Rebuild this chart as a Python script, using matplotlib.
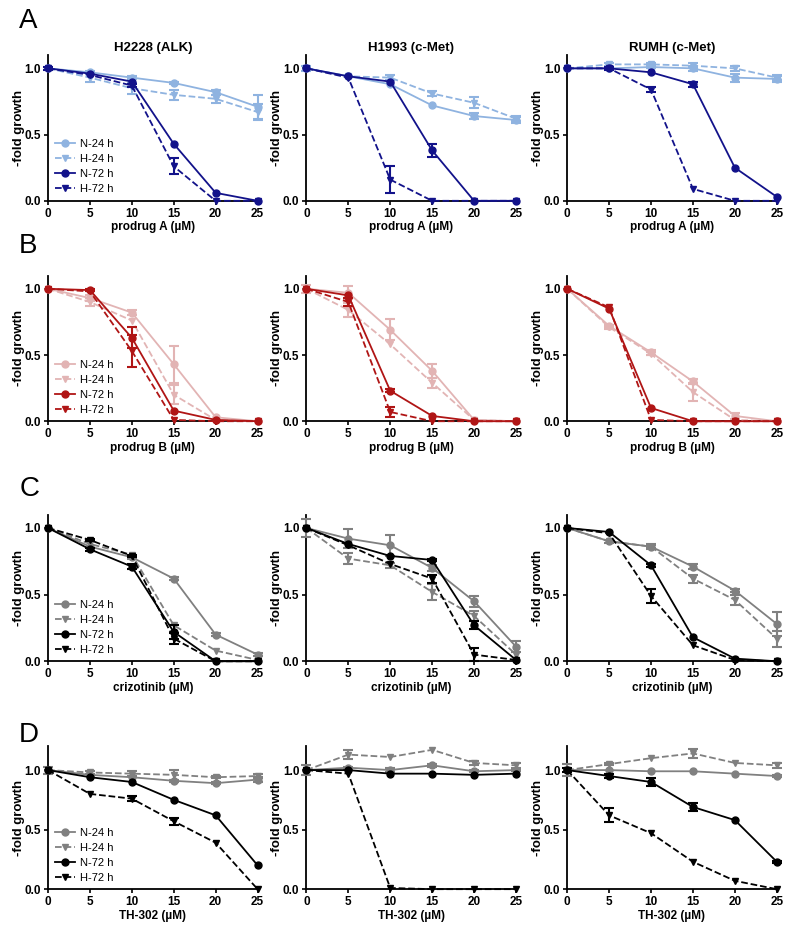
import matplotlib
matplotlib.use("Agg")
import matplotlib.pyplot as plt
import numpy as np

plt.rcParams["font.family"] = ["Liberation Sans", "DejaVu Sans"]

# ── Data ─────────────────────────────────────────────────────────────────────
# order of rows in each panel: N-24 h, H-24 h, N-72 h, H-72 h

CONC = [0, 5, 10, 15, 20, 25]
SERIES = ["N-24 h", "H-24 h", "N-72 h", "H-72 h"]
CELL_LINES = ["H2228 (ALK)", "H1993 (c-Met)", "RUMH (c-Met)"]
DRUGS = ["prodrug A (µM)", "prodrug B (µM)", "crizotinib (µM)", "TH-302 (µM)"]
ROW_LETTERS = ["A", "B", "C", "D"]

A_H2228 = [[1.0, 0.97, 0.93, 0.89, 0.82, 0.71],
           [1.0, 0.93, 0.85, 0.80, 0.77, 0.67],
           [1.0, 0.96, 0.90, 0.43, 0.06, 0.0],
           [1.0, 0.95, 0.87, 0.26, 0.0, 0.0]]
A_H2228_ERR = [[0, 0.01, 0.01, 0.01, 0.02, 0.09],
               [0, 0.03, 0.04, 0.04, 0.03, 0.06],
               [0, 0, 0, 0, 0, 0],
               [0.01, 0, 0.01, 0.06, 0, 0]]
A_H1993 = [[1.0, 0.94, 0.88, 0.72, 0.64, 0.61],
           [1.0, 0.94, 0.93, 0.81, 0.74, 0.62],
           [1.0, 0.94, 0.90, 0.38, 0.0, 0.0],
           [1.0, 0.93, 0.16, 0.0, 0.0, 0.0]]
A_H1993_ERR = [[0.02, 0, 0, 0, 0.02, 0.02],
               [0, 0, 0.02, 0.02, 0.04, 0.02],
               [0, 0, 0, 0.05, 0, 0],
               [0, 0, 0.10, 0, 0, 0]]
A_RUMH = [[1.0, 1.0, 1.01, 1.0, 0.93, 0.92],
          [1.0, 1.03, 1.03, 1.02, 1.0, 0.93],
          [1.0, 1.0, 0.97, 0.88, 0.25, 0.03],
          [1.0, 1.0, 0.84, 0.09, 0.0, 0.0]]
A_RUMH_ERR = [[0, 0, 0.01, 0.02, 0.03, 0.02],
              [0, 0.01, 0.01, 0.02, 0.02, 0.02],
              [0, 0.01, 0, 0.02, 0, 0],
              [0, 0, 0.02, 0, 0, 0]]

B_H2228 = [[1.0, 0.93, 0.82, 0.43, 0.03, 0.0],
           [1.0, 0.90, 0.76, 0.20, 0.01, 0.0],
           [1.0, 0.99, 0.63, 0.08, 0.01, 0.0],
           [1.0, 0.98, 0.53, 0.01, 0.0, 0.0]]
B_H2228_ERR = [[0, 0.02, 0.02, 0.14, 0, 0],
               [0, 0.03, 0, 0.07, 0, 0],
               [0, 0.01, 0.08, 0, 0, 0],
               [0, 0, 0.12, 0, 0, 0]]
B_H1993 = [[1.0, 0.97, 0.69, 0.38, 0.01, 0.0],
           [1.0, 0.84, 0.58, 0.29, 0.01, 0.0],
           [1.0, 0.95, 0.23, 0.04, 0.0, 0.0],
           [1.0, 0.90, 0.07, 0.0, 0.0, 0.0]]
B_H1993_ERR = [[0.03, 0.05, 0.08, 0.05, 0, 0],
               [0, 0.05, 0, 0.04, 0, 0],
               [0, 0, 0.01, 0, 0, 0],
               [0, 0.03, 0.04, 0, 0, 0]]
B_RUMH = [[1.0, 0.72, 0.52, 0.30, 0.04, 0.0],
          [1.0, 0.71, 0.51, 0.22, 0.01, 0.0],
          [1.0, 0.85, 0.10, 0.0, 0.0, 0.0],
          [1.0, 0.86, 0.01, 0.0, 0.0, 0.0]]
B_RUMH_ERR = [[0, 0.01, 0.02, 0.02, 0.02, 0],
              [0, 0.01, 0.01, 0.07, 0, 0],
              [0, 0, 0, 0, 0, 0],
              [0, 0, 0, 0, 0, 0]]

C_H2228 = [[1.0, 0.86, 0.78, 0.62, 0.20, 0.05],
           [1.0, 0.88, 0.80, 0.27, 0.08, 0.01],
           [1.0, 0.84, 0.71, 0.22, 0.0, 0.0],
           [1.0, 0.91, 0.79, 0.17, 0.0, 0.0]]
C_H2228_ERR = [[0, 0, 0.01, 0.01, 0.01, 0.01],
               [0, 0, 0, 0, 0, 0],
               [0, 0.01, 0.02, 0.05, 0, 0],
               [0, 0.01, 0.01, 0.04, 0, 0]]
C_H1993 = [[1.0, 0.92, 0.87, 0.70, 0.45, 0.11],
           [1.0, 0.77, 0.72, 0.52, 0.34, 0.05],
           [1.0, 0.88, 0.79, 0.76, 0.27, 0.01],
           [1.0, 0.87, 0.73, 0.62, 0.05, 0.01]]
C_H1993_ERR = [[0, 0.07, 0.08, 0.02, 0.04, 0.04],
               [0.07, 0.04, 0.02, 0.06, 0.04, 0],
               [0, 0, 0, 0.01, 0.03, 0],
               [0, 0, 0, 0.03, 0.05, 0]]
C_RUMH = [[1.0, 0.90, 0.86, 0.71, 0.53, 0.28],
          [1.0, 0.90, 0.86, 0.62, 0.46, 0.17],
          [1.0, 0.97, 0.72, 0.18, 0.02, 0.0],
          [1.0, 0.96, 0.49, 0.12, 0.01, 0.0]]
C_RUMH_ERR = [[0, 0, 0.02, 0.02, 0.01, 0.09],
              [0, 0.01, 0.01, 0.03, 0.04, 0.06],
              [0, 0, 0.01, 0, 0, 0],
              [0, 0, 0.05, 0, 0, 0]]

D_H2228 = [[1.0, 0.96, 0.94, 0.91, 0.89, 0.92],
           [1.0, 0.98, 0.97, 0.96, 0.94, 0.95],
           [1.0, 0.94, 0.90, 0.75, 0.62, 0.20],
           [1.0, 0.80, 0.76, 0.57, 0.39, 0.0]]
D_H2228_ERR = [[0, 0, 0, 0.01, 0.01, 0.02],
               [0.03, 0.01, 0.02, 0.04, 0.01, 0.02],
               [0, 0, 0, 0, 0, 0],
               [0, 0, 0.02, 0.03, 0, 0]]
D_H1993 = [[1.0, 1.02, 1.00, 1.04, 0.99, 1.0],
           [1.0, 1.13, 1.11, 1.17, 1.06, 1.04],
           [1.0, 1.0, 0.97, 0.97, 0.96, 0.97],
           [1.0, 0.97, 0.01, 0.0, 0.0, 0.0]]
D_H1993_ERR = [[0, 0.01, 0.02, 0.01, 0.01, 0.01],
               [0.04, 0.04, 0, 0, 0.02, 0.02],
               [0, 0, 0, 0, 0, 0],
               [0, 0, 0, 0, 0, 0]]
D_RUMH = [[1.0, 1.0, 0.99, 0.99, 0.97, 0.95],
          [1.0, 1.05, 1.10, 1.14, 1.06, 1.04],
          [1.0, 0.95, 0.90, 0.69, 0.58, 0.23],
          [1.0, 0.62, 0.47, 0.23, 0.07, 0.0]]
D_RUMH_ERR = [[0, 0, 0, 0, 0, 0.01],
              [0.05, 0.01, 0, 0.04, 0, 0.02],
              [0.02, 0.02, 0.03, 0.03, 0, 0.01],
              [0, 0.06, 0, 0, 0, 0]]

PANELS = [
    [(A_H2228, A_H2228_ERR), (A_H1993, A_H1993_ERR), (A_RUMH, A_RUMH_ERR)],
    [(B_H2228, B_H2228_ERR), (B_H1993, B_H1993_ERR), (B_RUMH, B_RUMH_ERR)],
    [(C_H2228, C_H2228_ERR), (C_H1993, C_H1993_ERR), (C_RUMH, C_RUMH_ERR)],
    [(D_H2228, D_H2228_ERR), (D_H1993, D_H1993_ERR), (D_RUMH, D_RUMH_ERR)],
]

# ── Styling ──────────────────────────────────────────────────────────────────

ROW_COLORS = [
    ("#8fb3e0", "#12128a"),
    ("#e2b4b4", "#b01515"),
    ("#808080", "#000000"),
    ("#808080", "#000000"),
]
ROW_YMAX = [1.1, 1.1, 1.1, 1.2]

# axes rectangles in figure fractions (left per column, bottom/height per row)
COL_LEFT = [0.060, 0.383, 0.709]
COL_WIDTH = 0.262
ROW_BOTTOM = [0.785, 0.549, 0.292, 0.048]
ROW_HEIGHT = [0.156, 0.156, 0.157, 0.153]
LETTER_Y = [0.978, 0.737, 0.476, 0.213]

fig = plt.figure(figsize=(8, 9.34), dpi=100)

for r in range(4):
    light, dark = ROW_COLORS[r]
    for c in range(3):
        ax = fig.add_axes([COL_LEFT[c], ROW_BOTTOM[r], COL_WIDTH, ROW_HEIGHT[r]])
        means, errs = PANELS[r][c]
        for i, label in enumerate(SERIES):
            color = light if i < 2 else dark
            ls = "-" if i % 2 == 0 else "--"
            marker = "o" if i % 2 == 0 else "v"
            y = np.array(means[i])
            e = np.array(errs[i])
            ax.plot(CONC, y, color=color, linestyle=ls, marker=marker,
                    markersize=5, linewidth=1.3, label=label,
                    clip_on=False, zorder=3 + i)
            has_err = e > 0
            if has_err.any():
                ax.errorbar(np.array(CONC)[has_err], y[has_err], yerr=e[has_err],
                            fmt="none", ecolor=color, elinewidth=1.5,
                            capsize=3.5, capthick=1.5, clip_on=False, zorder=3 + i)

        ax.set_xlim(0, 25)
        ax.set_ylim(0, ROW_YMAX[r])
        ax.set_xticks(CONC)
        ax.set_yticks([0, 0.5, 1.0])
        ax.set_yticklabels(["0.0", "0.5", "1.0"])
        ax.spines["top"].set_visible(False)
        ax.spines["right"].set_visible(False)
        ax.spines["left"].set_linewidth(1.3)
        ax.spines["bottom"].set_linewidth(1.3)
        ax.tick_params(direction="out", length=3, width=1.2, labelsize=8.5, pad=2)
        for lbl in ax.get_xticklabels() + ax.get_yticklabels():
            lbl.set_fontweight("bold")
        ax.set_xlabel(DRUGS[r], fontsize=8.5, fontweight="bold", labelpad=1)
        ax.set_ylabel("-fold growth", fontsize=9.5, fontweight="bold", labelpad=0)
        if r == 0:
            ax.set_title(CELL_LINES[c], fontsize=9.5, fontweight="bold", pad=3)
        if c == 0:
            ax.legend(loc="lower left", frameon=False, fontsize=8,
                      handlelength=1.8, handletextpad=0.5, labelspacing=0.45,
                      borderaxespad=0.2, bbox_to_anchor=(0.0, 0.0))

    fig.text(0.024, LETTER_Y[r], ROW_LETTERS[r], fontsize=20, va="center", ha="left")

fig.savefig("out.png", dpi=100)
